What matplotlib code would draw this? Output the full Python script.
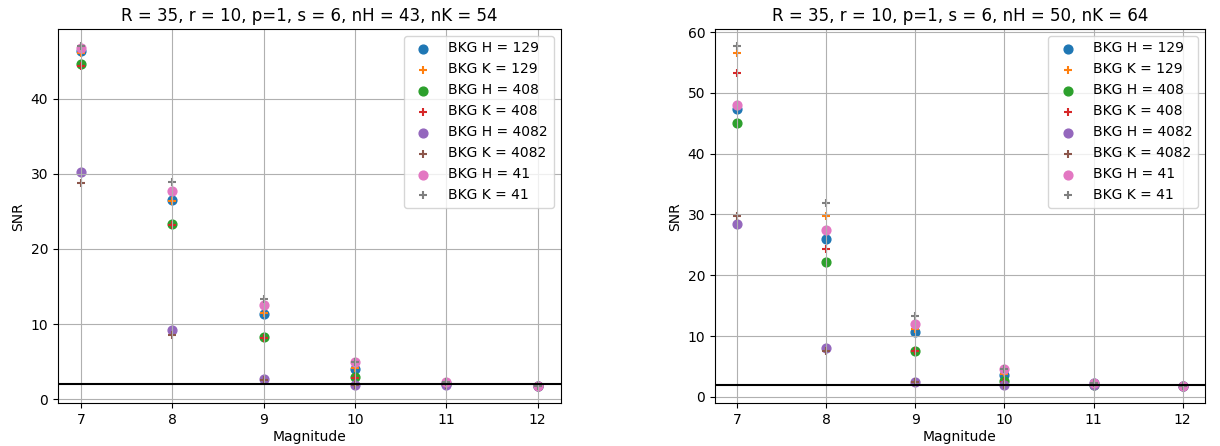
import matplotlib.pyplot as plt
import numpy as np

mags = [7, 8, 9, 10, 11, 12]
labels = ["BKG H = 129", "BKG K = 129", "BKG H = 408", "BKG K = 408",
          "BKG H = 4082", "BKG K = 4082", "BKG H = 41", "BKG K = 41"]

# left panel: nH = 43, nK = 54
left_h129 = [46.3, 26.5, 11.3, 4.0, 2.2, 1.7]
left_k129 = [46.1, 26.4, 11.5, 4.1, 2.2, 1.7]
left_h408 = [44.6, 23.3, 8.3, 2.9, 2.0, 1.7]
left_k408 = [44.3, 23.2, 8.2, 2.8, 2.0, 1.7]
left_h4082 = [30.2, 9.2, 2.7, 1.9, 1.9, 1.7]
left_k4082 = [28.8, 8.5, 2.5, 1.9, 1.9, 1.7]
left_h41 = [46.8, 27.7, 12.6, 4.9, 2.3, 1.7]
left_k41 = [47.0, 28.9, 13.3, 5.0, 2.3, 1.7]

# right panel: nH = 50, nK = 64
right_h129 = [47.3, 26.0, 10.6, 3.6, 2.2, 1.7]
right_k129 = [56.6, 29.7, 11.2, 3.8, 2.2, 1.7]
right_h408 = [45.1, 22.2, 7.5, 2.6, 2.0, 1.7]
right_k408 = [53.3, 24.3, 7.5, 2.5, 2.0, 1.7]
right_h4082 = [28.4, 8.0, 2.5, 1.9, 1.9, 1.7]
right_k4082 = [29.8, 7.6, 2.4, 1.9, 1.9, 1.7]
right_h41 = [48.0, 27.5, 12.0, 4.6, 2.3, 1.7]
right_k41 = [57.7, 31.8, 13.3, 4.6, 2.3, 1.7]

left = [left_h129, left_k129, left_h408, left_k408, left_h4082, left_k4082, left_h41, left_k41]
right = [right_h129, right_k129, right_h408, right_k408, right_h4082, right_k4082, right_h41, right_k41]
titles = ["R = 35, r = 10, p=1, s = 6, nH = 43, nK = 54",
          "R = 35, r = 10, p=1, s = 6, nH = 50, nK = 64"]

fig = plt.figure(figsize=(12.2, 4.46), dpi=100)
ax1 = fig.add_axes([0.0475, 0.0953, 0.412, 0.8397])
ax2 = fig.add_axes([0.586, 0.0953, 0.4016, 0.8397])

for ax, series, title in zip([ax1, ax2], [left, right], titles):
    for i, (vals, lab) in enumerate(zip(series, labels)):
        marker = "o" if i % 2 == 0 else "+"
        ax.scatter(mags, vals, 40, color="C%d" % i, marker=marker, label=lab)
    ax.axhline(2, color="black")
    ax.set_title(title)
    ax.set_xlabel("Magnitude", labelpad=2)
    ax.set_ylabel("SNR")
    ax.grid(True)
    ax.legend(loc="upper right")

fig.savefig("out.png")
